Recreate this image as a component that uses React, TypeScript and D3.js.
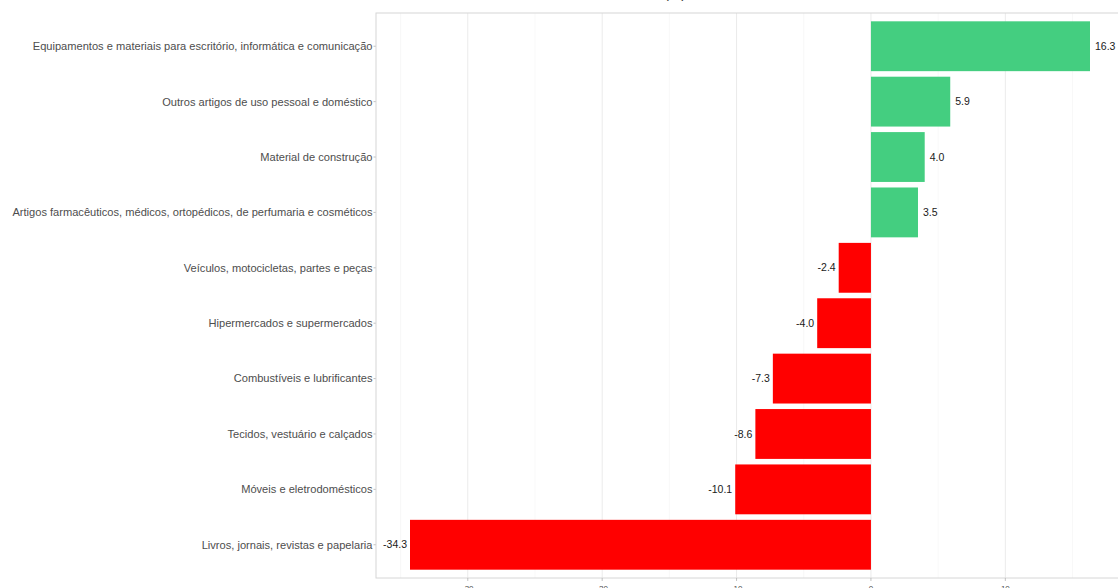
import React from "react";
import * as d3 from "d3";

const categories = [
  "Equipamentos e materiais para escritório, informática e comunicação",
  "Outros artigos de uso pessoal e doméstico",
  "Material de construção",
  "Artigos farmacêuticos, médicos, ortopédicos, de perfumaria e cosméticos",
  "Veículos, motocicletas, partes e peças",
  "Hipermercados e supermercados",
  "Combustíveis e lubrificantes",
  "Tecidos, vestuário e calçados",
  "Móveis e eletrodomésticos",
  "Livros, jornais, revistas e papelaria",
];
const values = [16.3, 5.9, 4.0, 3.5, -2.4, -4.0, -7.3, -8.6, -10.1, -34.3];
const majorTicks = [-30, -20, -10, 0, 10];
const minorTicks = [-35, -25, -15, -5, 5, 15];
const title = "(%)";

const W = 1118;
const H = 588;
const panel = { left: 376, right: 1124, top: 13, bottom: 578 };

export default function App() {
  const minV = d3.min(values)!;
  const maxV = d3.max(values)!;
  const span = maxV - minV;
  const x = d3
    .scaleLinear()
    .domain([minV - span * 0.05, maxV + span * 0.05])
    .range([panel.left, panel.right]);
  const y = d3
    .scaleBand<string>()
    .domain(categories)
    .range([panel.top, panel.bottom])
    .paddingInner(0.1)
    .paddingOuter(0.15);
  const font = "'Liberation Sans', Arial, sans-serif";
  return (
    <svg
      width={W}
      height={H}
      style={{ position: "absolute", left: 0, top: 0, display: "block", background: "#fff" }}
      fontFamily={font}
    >
      <rect x={0} y={0} width={W} height={H} fill="#fff" />
      <text x={686} y={-2.5} textAnchor="end" fontSize={14} fill="#333">
        {title}
      </text>
      {minorTicks.map((t) => (
        <line key={"mn" + t} x1={x(t)} x2={x(t)} y1={panel.top} y2={panel.bottom} stroke="#f3f3f3" strokeWidth={0.6} />
      ))}
      {majorTicks.map((t) => (
        <line key={"mj" + t} x1={x(t)} x2={x(t)} y1={panel.top} y2={panel.bottom} stroke="#ebebeb" strokeWidth={1} />
      ))}
      {categories.map((c, i) => {
        const v = values[i];
        const y0 = y(c)!;
        const bw = y.bandwidth();
        const x0 = x(Math.min(0, v));
        const x1 = x(Math.max(0, v));
        const cy = y0 + bw / 2;
        return (
          <g key={c}>
            <rect x={x0} y={y0} width={x1 - x0} height={bw} fill={v >= 0 ? "#44CE80" : "#FF0000"} />
            <text
              x={v >= 0 ? x1 + 5 : x0 - 3}
              y={cy}
              dy="0.35em"
              textAnchor={v >= 0 ? "start" : "end"}
              fontSize={10.5}
              fill="#1a1a1a"
            >
              {v.toFixed(1)}
            </text>
            <line x1={panel.left - 2.5} x2={panel.left} y1={cy} y2={cy} stroke="#b3b3b3" strokeWidth={0.8} />
            <text x={panel.left - 3.5} y={cy} dy="0.35em" textAnchor="end" fontSize={11.1} fill="#4d4d4d">
              {c}
            </text>
          </g>
        );
      })}
      <rect
        x={panel.left}
        y={panel.top}
        width={panel.right - panel.left}
        height={panel.bottom - panel.top}
        fill="none"
        stroke="#d6d6d6"
        strokeWidth={1}
      />
      {majorTicks.map((t) => (
        <g key={"xt" + t}>
          <line x1={x(t)} x2={x(t)} y1={panel.bottom} y2={panel.bottom + 3} stroke="#b3b3b3" strokeWidth={0.8} />
          <text x={x(t)} y={590.5} textAnchor="middle" fontSize={8} fill="#4d4d4d">
            {t}
          </text>
        </g>
      ))}
    </svg>
  );
}
